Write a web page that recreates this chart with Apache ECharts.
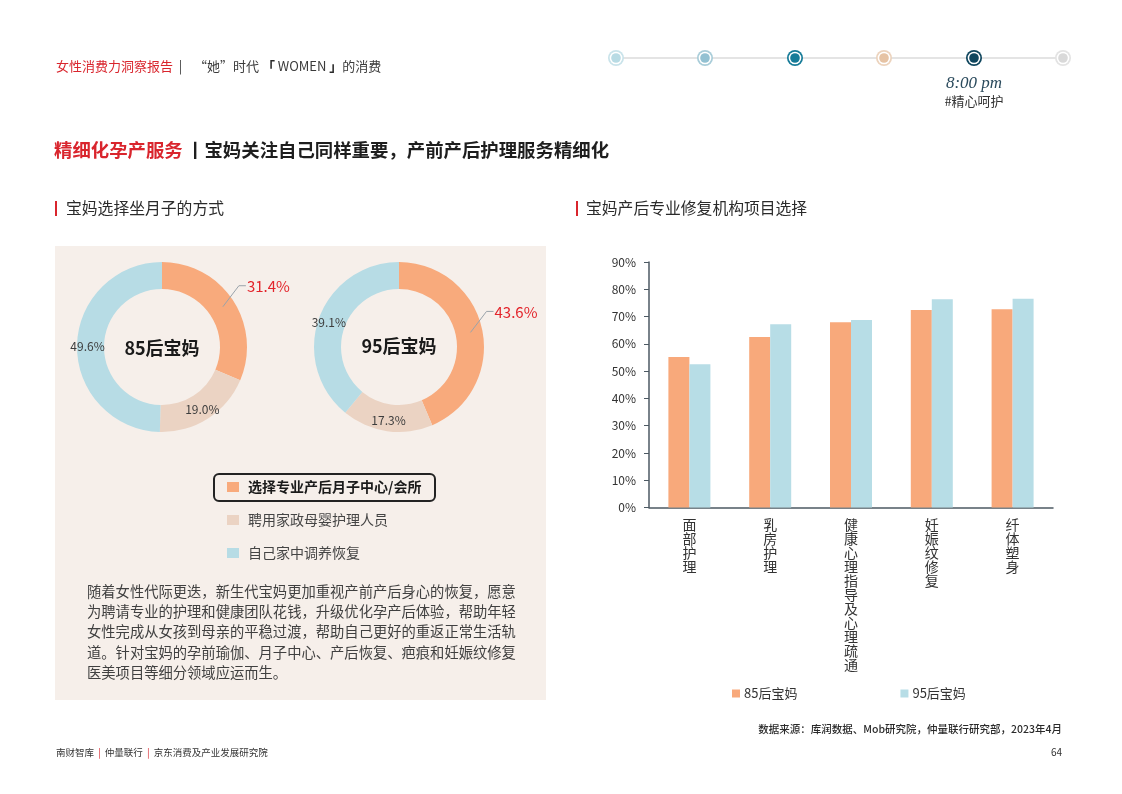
<!DOCTYPE html>
<html>
<head>
<meta charset="utf-8">
<script src="https://cdn.jsdelivr.net/npm/echarts@6/dist/echarts.min.js"></script>
<style>
  html, body { margin: 0; padding: 0; background: #fff; }
  #page { width: 1122px; height: 794px; }
</style>
</head>
<body>
<div id="page"></div>
<script>
// Page data

const PIE_NAMES = ['选择专业产后月子中心/会所', '聘用家政母婴护理人员', '自己家中调养恢复'];
const PIE_COLORS = ['#f8aa7c', '#ebd3c3', '#b7dce5'];
const MOM85 = [31.4, 19.0, 49.6];
const MOM95 = [43.6, 17.3, 39.1];

const BAR_CATEGORIES = ['面部护理', '乳房护理', '健康心理指导及心理疏通', '妊娠纹修复', '纤体塑身'];
const BAR_SERIES = ['85后宝妈', '95后宝妈'];
const BAR_85 = [55.2, 62.5, 67.9, 72.4, 72.7];
const BAR_95 = [52.5, 67.2, 68.7, 76.3, 76.5];
const Y_TICKS = [0, 10, 20, 30, 40, 50, 60, 70, 80, 90];

const TIMELINE = [
  { ring: '#c9e3ea', dot: '#b8dbe4' },
  { ring: '#a9cdd9', dot: '#93c1d2' },
  { ring: '#167b98', dot: '#167b98' },
  { ring: '#ecd3bd', dot: '#e6c3a4' },
  { ring: '#0e455d', dot: '#0e455d' },
  { ring: '#e3e3e3', dot: '#d9d9d9' },
];

const PARAGRAPH = [
  '随着女性代际更迭，新生代宝妈更加重视产前产后身心的恢复，愿意',
  '为聘请专业的护理和健康团队花钱，升级优化孕产后体验，帮助年轻',
  '女性完成从女孩到母亲的平稳过渡，帮助自己更好的重返正常生活轨',
  '道。针对宝妈的孕前瑜伽、月子中心、产后恢复、疤痕和妊娠纹修复',
  '医美项目等细分领域应运而生。',
];

const FONT = '"Noto Sans CJK SC", "Noto Sans", sans-serif';
const RED = '#d9252d';

function donut(values, center) {
  return {
    type: 'pie',
    center: center,
    radius: [58, 85],
    startAngle: 90,
    clockwise: true,
    silent: true,
    emphasis: { disabled: true },
    data: values.map((v, i) => ({
      name: PIE_NAMES[i],
      value: v,
      itemStyle: { color: PIE_COLORS[i] },
      label: { show: i !== 0 },
    })),
    label: {
      position: 'inside',
      formatter: p => p.value.toFixed(1) + '%',
      color: '#3d3d3d',
      fontSize: 12,
      fontFamily: FONT,
    },
    labelLine: { show: false },
  };
}

// transparent overlay so the leader line starts mid-ring, like the reference
function donutCallout(values, center) {
  return {
    type: 'pie',
    center: center,
    radius: [0, 73],
    startAngle: 90,
    clockwise: true,
    silent: true,
    z: 5,
    emphasis: { disabled: true },
    itemStyle: { color: 'transparent' },
    data: values.map((v, i) => ({
      name: PIE_NAMES[i],
      value: v,
      label: { show: i === 0 },
      labelLine: { show: i === 0 },
    })),
    label: {
      position: 'outside',
      formatter: p => p.value.toFixed(1) + '%',
      color: '#e3242b',
      fontSize: 15,
      fontFamily: FONT,
    },
    labelLine: {
      length: 20,
      length2: 7,
      lineStyle: { color: '#9aa3aa', width: 1 },
    },
    labelLayout: p => {
      if (p.dataIndex !== 0 || !p.labelLinePoints) return {};
      const s = p.labelLinePoints[0];
      const m = [s[0] + 16, s[1] - 21];
      const e = [m[0] + 7, m[1]];
      return {
        x: e[0] + 1,
        y: e[1] + 1,
        align: 'left',
        verticalAlign: 'middle',
        labelLinePoints: [s, m, e],
      };
    },
  };
}

function timelineGraphics() {
  const xs = [616, 705, 795, 884, 974, 1063];
  const out = [{
    type: 'line', shape: { x1: xs[0], y1: 58, x2: xs[xs.length - 1], y2: 58 },
    style: { stroke: '#e4e4e4', lineWidth: 2 }, z: 1,
  }];
  TIMELINE.forEach((t, i) => {
    out.push({ type: 'circle', shape: { cx: xs[i], cy: 58, r: 8 }, style: { fill: t.ring }, z: 2 });
    out.push({ type: 'circle', shape: { cx: xs[i], cy: 58, r: 6.3 }, style: { fill: '#fff' }, z: 3 });
    out.push({ type: 'circle', shape: { cx: xs[i], cy: 58, r: 4.8 }, style: { fill: t.dot }, z: 4 });
  });
  out.push({
    type: 'text', x: 974, y: 84,
    style: { text: '8:00 pm', font: 'italic 17px "Liberation Serif", "DejaVu Serif", serif', fill: '#2a4a5c', align: 'center', verticalAlign: 'middle' },
  });
  out.push({
    type: 'text', x: 974, y: 101,
    style: { text: '#精心呵护', fontSize: 13, fontFamily: FONT, fill: '#333', align: 'center', verticalAlign: 'middle' },
  });
  return out;
}

const chart = echarts.init(document.getElementById('page'), null, { renderer: 'canvas' });

chart.setOption({
  backgroundColor: '#ffffff',
  animation: false,
  textStyle: { fontFamily: FONT },
  graphic: [
    // left panel background
    { type: 'rect', shape: { x: 55, y: 246, width: 491, height: 454 }, style: { fill: '#f6efea' }, z: -10 },

    // header
    {
      type: 'text', x: 56, y: 66,
      style: {
        text: '{r|女性消费力洞察报告}{g|  |    “她”时代 }{k|「}{g| WOMEN }{k|」}{g|的消费}',
        verticalAlign: 'middle',
        rich: {
          r: { fontSize: 13, fontFamily: FONT, fill: RED },
          g: { fontSize: 13, fontFamily: FONT, fill: '#3a3a3a' },
          k: { fontSize: 13, fontWeight: 'bold', fontFamily: FONT, fill: '#2a2a2a' },
        },
      },
    },
    ...timelineGraphics(),

    // page title
    {
      type: 'text', x: 54, y: 150,
      style: {
        text: '{r|精细化孕产服务} {b|丨}{b|宝妈关注自己同样重要，产前产后护理服务精细化}',
        verticalAlign: 'middle',
        rich: {
          r: { fontSize: 18.4, fontWeight: 'bold', fontFamily: FONT, fill: RED },
          b: { fontSize: 18.4, fontWeight: 'bold', fontFamily: FONT, fill: '#1e1e1e' },
        },
      },
    },

    // section headings
    { type: 'rect', shape: { x: 55, y: 201, width: 2, height: 15 }, style: { fill: RED } },
    { type: 'text', x: 66, y: 208, style: { text: '宝妈选择坐月子的方式', fontSize: 15.8, fontFamily: FONT, fill: '#2a2a2a', verticalAlign: 'middle' } },
    { type: 'rect', shape: { x: 576, y: 201, width: 2, height: 15 }, style: { fill: RED } },
    { type: 'text', x: 586, y: 208, style: { text: '宝妈产后专业修复机构项目选择', fontSize: 15.8, fontFamily: FONT, fill: '#2a2a2a', verticalAlign: 'middle' } },

    // donut centre captions
    { type: 'text', x: 162, y: 348, z: 10, style: { text: '85后宝妈', fontSize: 18, fontWeight: 'bold', fontFamily: FONT, fill: '#1a1a1a', align: 'center', verticalAlign: 'middle' } },
    { type: 'text', x: 399, y: 346, z: 10, style: { text: '95后宝妈', fontSize: 18, fontWeight: 'bold', fontFamily: FONT, fill: '#1a1a1a', align: 'center', verticalAlign: 'middle' } },

    // highlight box around first legend item
    { type: 'rect', shape: { x: 214, y: 474, width: 221, height: 27, r: 5 }, style: { fill: 'none', stroke: '#232323', lineWidth: 2 }, z: 10 },

    // paragraph
    {
      type: 'text', x: 87, y: 581,
      style: { text: PARAGRAPH.join('\n'), fontSize: 14.3, lineHeight: 20.4, fontFamily: FONT, fill: '#404040' },
    },

    // source + footer
    { type: 'text', x: 1062, y: 729, style: { text: '数据来源：库润数据、Mob研究院，仲量联行研究部，2023年4月', fontSize: 10.5, fontWeight: 500, fontFamily: FONT, fill: '#2a2a2a', align: 'right', verticalAlign: 'middle' } },
    {
      type: 'text', x: 56, y: 752,
      style: {
        text: '{k|南财智库}{r| | }{k|仲量联行}{r| | }{k|京东消费及产业发展研究院}',
        verticalAlign: 'middle',
        rich: {
          k: { fontSize: 9.5, fontFamily: FONT, fill: '#333' },
          r: { fontSize: 9.5, fontFamily: FONT, fill: RED, padding: [0, 2] },
        },
      },
    },
    { type: 'text', x: 1062, y: 752, style: { text: '64', fontSize: 10, fontFamily: FONT, fill: '#333', align: 'right', verticalAlign: 'middle' } },
  ],

  legend: [
    {
      orient: 'vertical',
      left: 222,
      top: 475,
      itemWidth: 12,
      itemHeight: 10,
      itemGap: 19,
      icon: 'rect',
      selectedMode: false,
      data: PIE_NAMES.map((n, i) => ({
        name: n,
        textStyle: i === 0 ? { fontWeight: 'bold', color: '#1a1a1a' } : {},
      })),
      textStyle: { fontSize: 14, color: '#444', fontFamily: FONT, padding: [0, 0, 0, 4] },
    },
    {
      left: 727,
      top: 682,
      itemWidth: 8,
      itemHeight: 8,
      itemGap: 103,
      icon: 'rect',
      selectedMode: false,
      data: BAR_SERIES,
      textStyle: { fontSize: 13, color: '#333', fontFamily: FONT, padding: [0, 0, 0, -1] },
    },
  ],

  grid: { left: 649, top: 262, right: 69, bottom: 286.5, containLabel: false },
  xAxis: {
    type: 'category',
    data: BAR_CATEGORIES,
    axisLine: { lineStyle: { color: '#4c5963', width: 1.5 } },
    axisTick: { show: false },
    axisLabel: {
      interval: 0,
      margin: 10,
      fontSize: 14,
      lineHeight: 14,
      color: '#333',
      verticalAlign: 'top',
      formatter: v => v.split('').join('\n'),
    },
  },
  yAxis: {
    type: 'value',
    min: Y_TICKS[0],
    max: Y_TICKS[Y_TICKS.length - 1],
    interval: 10,
    axisLine: { show: true, lineStyle: { color: '#4c5963', width: 1.5 } },
    axisTick: { show: true, length: 5, lineStyle: { color: '#4c5963' } },
    splitLine: { show: false },
    axisLabel: { fontSize: 12, color: '#333', margin: 13, formatter: '{value}%' },
  },

  series: [
    donut(MOM85, [162, 347]),
    donut(MOM95, [399, 347]),
    {
      name: BAR_SERIES[0], type: 'bar', data: BAR_85, barWidth: 21, barGap: '0%',
      itemStyle: { color: '#f8a97b' }, silent: true,
    },
    {
      name: BAR_SERIES[1], type: 'bar', data: BAR_95, barWidth: 21, barGap: '0%',
      itemStyle: { color: '#b7dde6' }, silent: true,
    },
    donutCallout(MOM85, [162, 347]),
    donutCallout(MOM95, [399, 347]),
  ],
});
</script>
</body>
</html>
